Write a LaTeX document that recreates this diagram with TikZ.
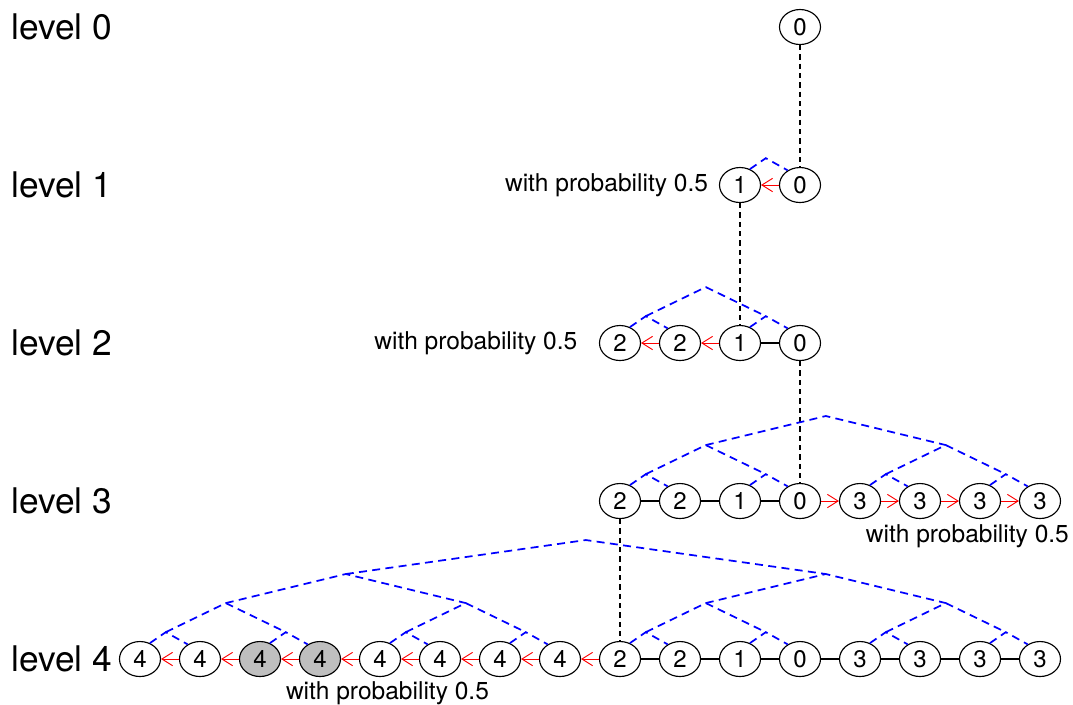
\documentclass[tikz,border=0pt]{standalone}
\usepackage{fontspec}
\setmainfont{TeX Gyre Heros}
\usetikzlibrary{shapes.geometric,arrows.meta,positioning}

\begin{document}
\begin{tikzpicture}[
    x=45pt, y=118.5pt,
    cell/.style={ellipse, draw, line width=0.85pt, minimum width=30.75pt, minimum height=26.25pt, inner sep=0pt, font=\fontsize{18}{20}\selectfont},
    hit/.style={cell, fill=gray!50},
    lvl/.style={anchor=west, inner sep=0pt, font=\fontsize{26.5}{30}\selectfont},
    prob/.style={inner sep=0pt, font=\fontsize{18.4}{21}\selectfont},
    solidline/.style={line width=0.9pt},
    redarrow/.style={red, line width=0.75pt, -{Straight Barb[length=8pt,width=10pt,line width=0.7pt]}},
    vline/.style={line width=0.9pt, dash pattern=on 4pt off 3pt},
    treeline/.style={blue, line width=1.3pt, dash pattern=on 6pt off 4pt}
]
    \useasboundingbox (-2.333,0.171) rectangle (15.55,-4.285);

    % level names
    \foreach \lv in {0,...,4}
        \node[lvl] (lvl\lv) at (-2.15,-\lv) {level \lv};

    % level 0 and 1
    \node[cell] (a11) at (11,0) {0};
    \node[cell] (b10) at (10,-1) {1};
    \node[cell] (b11) at (11,-1) {0};
    % level 2
    \foreach \col/\txt in {8/2,9/2,10/1,11/0}
        \node[cell] (c\col) at (\col,-2) {\txt};
    % level 3
    \foreach \col/\txt in {8/2,9/2,10/1,11/0,12/3,13/3,14/3,15/3}
        \node[cell] (d\col) at (\col,-3) {\txt};
    % level 4
    \foreach \col in {0,1,4,5,6,7}
        \node[cell] (e\col) at (\col,-4) {4};
    \foreach \col in {2,3}
        \node[hit] (e\col) at (\col,-4) {4};
    \foreach \col/\txt in {8/2,9/2,10/1,11/0,12/3,13/3,14/3,15/3}
        \node[cell] (e\col) at (\col,-4) {\txt};

    \node[prob, left=8pt of b10] (p1) {with probability 0.5};
    \node[prob, left=16pt of c8] (p2) {with probability 0.5};
    \node[prob] (p3) at (13.79,-3.22) {with probability 0.5};
    \node[prob] (p4) at (4.125,-4.214) {with probability 0.5};

    % links between levels
    \draw[vline] (a11) -- (b11);
    \draw[vline] (b10) -- (c10);
    \draw[vline] (c11) -- (d11);
    \draw[vline] (d8) -- (e8);

    % links inside a level
    \draw[redarrow] (b11) -- (b10);
    \draw[redarrow] (c10) -- (c9);
    \draw[redarrow] (c9) -- (c8);
    \draw[solidline] (c10) -- (c11);
    \draw[solidline] (d8) -- (d9) -- (d10) -- (d11);
    \foreach \col/\nxt in {11/12,12/13,13/14,14/15}
        \draw[redarrow] (d\col) -- (d\nxt);
    \foreach \col/\nxt in {8/7,7/6,6/5,5/4,4/3,3/2,2/1,1/0}
        \draw[redarrow] (e\col) -- (e\nxt);
    \draw[solidline] (e8) -- (e9) -- (e10) -- (e11) -- (e12) -- (e13) -- (e14) -- (e15);

    % trees, level 1
    \coordinate (b1-0) at (10.43,-0.83);
    \draw[treeline] (b10.58) -- (b1-0) -- (b11.130);
    % level 2
    \foreach \i in {0,1} {
        \pgfmathtruncatemacro\ia{8+2*\i}
        \pgfmathtruncatemacro\ib{9+2*\i}
        \coordinate (c1-\i) at (\ia+0.43,-1.83);
        \draw[treeline] (c\ia.58) -- (c1-\i) -- (c\ib.130);
    }
    \coordinate (c2-0) at (9.43,-1.646);
    \draw[treeline] (c1-0) -- (c2-0) -- (c1-1);
    % level 3
    \foreach \i in {0,...,3} {
        \pgfmathtruncatemacro\ia{8+2*\i}
        \pgfmathtruncatemacro\ib{9+2*\i}
        \coordinate (d1-\i) at (\ia+0.43,-2.83);
        \draw[treeline] (d\ia.58) -- (d1-\i) -- (d\ib.130);
    }
    \foreach \i in {0,1} {
        \pgfmathtruncatemacro\ia{2*\i}
        \pgfmathtruncatemacro\ib{2*\i+1}
        \coordinate (d2-\i) at (9.43+4*\i,-2.646);
        \draw[treeline] (d1-\ia) -- (d2-\i) -- (d1-\ib);
    }
    \coordinate (d3-0) at (11.43,-2.462);
    \draw[treeline] (d2-0) -- (d3-0) -- (d2-1);
    % level 4
    \foreach \i in {0,...,7} {
        \pgfmathtruncatemacro\ia{2*\i}
        \pgfmathtruncatemacro\ib{2*\i+1}
        \coordinate (e1-\i) at (\ia+0.43,-3.83);
        \draw[treeline] (e\ia.58) -- (e1-\i) -- (e\ib.130);
    }
    \foreach \i in {0,...,3} {
        \pgfmathtruncatemacro\ia{2*\i}
        \pgfmathtruncatemacro\ib{2*\i+1}
        \coordinate (e2-\i) at (1.43+4*\i,-3.646);
        \draw[treeline] (e1-\ia) -- (e2-\i) -- (e1-\ib);
    }
    \foreach \i in {0,1} {
        \pgfmathtruncatemacro\ia{2*\i}
        \pgfmathtruncatemacro\ib{2*\i+1}
        \coordinate (e3-\i) at (3.43+8*\i,-3.462);
        \draw[treeline] (e2-\ia) -- (e3-\i) -- (e2-\ib);
    }
    \coordinate (e4-0) at (7.43,-3.247);
    \draw[treeline] (e3-0) -- (e4-0) -- (e3-1);
\end{tikzpicture}
\end{document}
